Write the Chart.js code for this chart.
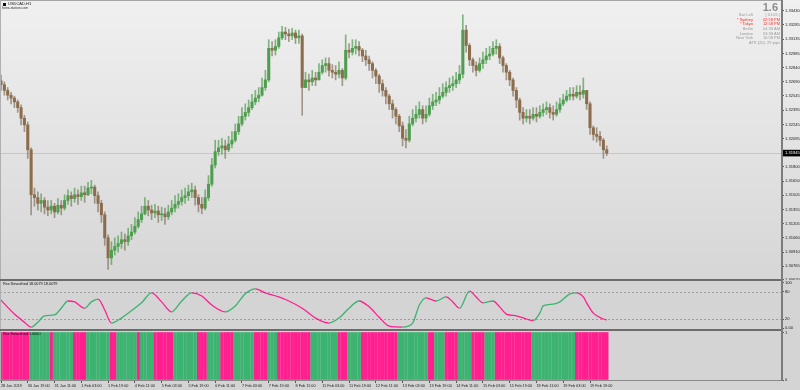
<!DOCTYPE html>
<html>
<head>
<meta charset="utf-8">
<script src="https://cdn.jsdelivr.net/npm/chart.js@4.4.1/dist/chart.umd.min.js"></script>
<style>
  html, body { margin: 0; padding: 0; background: #d4d4d4; }
  #wrap { position: relative; width: 800px; height: 390px; overflow: hidden; font-family: Arial, "Liberation Sans", sans-serif; }
  canvas { position: absolute; left: 0; }
  .rule { position: absolute; }
  .txt { position: absolute; white-space: nowrap; line-height: 1; }
</style>
</head>
<body>
<div id="wrap">
  <canvas id="main" width="800" height="280" style="top:0"></canvas>
  <canvas id="rsx" width="800" height="50" style="top:280px"></canvas>
  <canvas id="hist" width="800" height="60" style="top:330px"></canvas>

  <div class="rule" style="left:0;top:0;width:783px;height:1px;background:#a4a4a4"></div>
  <div class="rule" style="left:0;top:0;width:1px;height:380px;background:#b0b0b0"></div>
  <div class="rule" style="left:0;top:279px;width:783px;height:2px;background:#6c6c6c"></div>
  <div class="rule" style="left:0;top:329px;width:783px;height:2px;background:#6c6c6c"></div>
  <div class="rule" style="left:781px;top:0;width:2px;height:381px;background:#7c7c7c"></div>

  <div class="rule" style="left:3px;top:3px;width:3px;height:3px;background:#111"></div>
  <div class="txt" style="left:8px;top:2.4px;font-size:4px;color:#111">USDCAD,H1</div>
  <div class="txt" style="left:2px;top:6.6px;font-size:3.4px;color:#333">forex-station.com</div>
  <div class="txt" style="right:22px;top:1.6px;font-size:11px;font-weight:bold;color:#8c8c8c">1.6</div>
  <div id="info"></div>

  <div class="txt" style="left:3px;top:283px;font-size:3.8px;color:#111">Rsx Smoothed 18.0079 18.0079</div>
  <div class="txt" style="left:3px;top:333px;font-size:3.8px;color:#111">Rsx Smoothed 1.0000</div>
</div>

<script>
// USDCAD H1, sampled every 2 hours (bar 0 = 28 Jan 2019)
const firstOpen = 1.3270;
const closes = [
  1.3266,1.3260,1.3255,1.3252,1.3248,1.3242,1.3231,1.3224,1.3198,1.3151,
  1.3148,1.3142,1.3145,1.3138,1.3135,1.3139,1.3133,1.3140,1.3137,1.3145,
  1.3150,1.3147,1.3151,1.3149,1.3153,1.3151,1.3158,1.3159,1.3150,1.3142,
  1.3130,1.3106,1.3085,1.3093,1.3097,1.3100,1.3104,1.3102,1.3108,1.3112,
  1.3118,1.3125,1.3131,1.3139,1.3135,1.3132,1.3134,1.3130,1.3131,1.3128,
  1.3133,1.3137,1.3141,1.3144,1.3148,1.3150,1.3154,1.3156,1.3148,1.3141,
  1.3137,1.3148,1.3162,1.3182,1.3196,1.3200,1.3202,1.3198,1.3204,1.3208,
  1.3217,1.3225,1.3233,1.3237,1.3242,1.3248,1.3252,1.3255,1.3263,1.3271,
  1.3304,1.3302,1.3306,1.3315,1.3321,1.3319,1.3317,1.3320,1.3315,1.3317,
  1.3263,1.3271,1.3269,1.3273,1.3271,1.3279,1.3286,1.3288,1.3281,1.3279,
  1.3277,1.3281,1.3273,1.3302,1.3300,1.3304,1.3306,1.3302,1.3296,1.3292,
  1.3288,1.3281,1.3275,1.3267,1.3260,1.3254,1.3246,1.3240,1.3233,1.3223,
  1.3210,1.3208,1.3225,1.3231,1.3235,1.3240,1.3231,1.3235,1.3244,1.3248,
  1.3250,1.3254,1.3258,1.3263,1.3265,1.3267,1.3271,1.3277,1.3323,1.3307,
  1.3292,1.3286,1.3281,1.3288,1.3292,1.3296,1.3298,1.3304,1.3306,1.3294,
  1.3286,1.3279,1.3271,1.3260,1.3250,1.3237,1.3231,1.3233,1.3231,1.3235,
  1.3233,1.3237,1.3240,1.3242,1.3237,1.3235,1.3240,1.3246,1.3250,1.3254,
  1.3256,1.3254,1.3258,1.3256,1.3260,1.3246,1.3221,1.3214,1.3212,1.3208,
  1.3198,1.31945
];
const highs = [
  1.3276,1.3269,1.3263,1.3258,1.3254,1.3250,1.3245,1.3234,1.3227,1.3200,
  1.3158,1.3154,1.3152,1.3148,1.3145,1.3145,1.3142,1.3147,1.3145,1.3151,
  1.3156,1.3154,1.3158,1.3156,1.3160,1.3160,1.3164,1.3166,1.3161,1.3154,
  1.3145,1.3133,1.3109,1.3102,1.3106,1.3108,1.3112,1.3110,1.3116,1.3120,
  1.3127,1.3133,1.3139,1.3148,1.3145,1.3140,1.3141,1.3139,1.3138,1.3137,
  1.3140,1.3145,1.3150,1.3152,1.3156,1.3158,1.3161,1.3163,1.3160,1.3151,
  1.3148,1.3156,1.3171,1.3189,1.3208,1.3208,1.3210,1.3208,1.3212,1.3217,
  1.3225,1.3233,1.3242,1.3246,1.3250,1.3256,1.3260,1.3263,1.3273,1.3281,
  1.3313,1.3311,1.3313,1.3321,1.3327,1.3326,1.3324,1.3325,1.3323,1.3323,
  1.3319,1.3279,1.3277,1.3281,1.3279,1.3288,1.3292,1.3294,1.3294,1.3287,
  1.3286,1.3290,1.3283,1.3318,1.3309,1.3313,1.3313,1.3311,1.3304,1.3302,
  1.3296,1.3290,1.3283,1.3277,1.3271,1.3263,1.3256,1.3250,1.3242,1.3235,
  1.3227,1.3219,1.3233,1.3240,1.3244,1.3248,1.3244,1.3244,1.3252,1.3256,
  1.3258,1.3263,1.3267,1.3269,1.3273,1.3275,1.3279,1.3286,1.3339,1.3328,
  1.3309,1.3294,1.3290,1.3294,1.3300,1.3304,1.3306,1.3311,1.3313,1.3309,
  1.3296,1.3288,1.3281,1.3273,1.3263,1.3252,1.3242,1.3240,1.3240,1.3242,
  1.3242,1.3244,1.3246,1.3248,1.3246,1.3244,1.3248,1.3252,1.3256,1.3260,
  1.3263,1.3263,1.3265,1.3265,1.3273,1.3260,1.3248,1.3223,1.3221,1.3217,
  1.3210,1.3202
];
const lows = [
  1.3260,1.3255,1.3250,1.3246,1.3242,1.3237,1.3224,1.3217,1.3189,1.3130,
  1.3139,1.3135,1.3133,1.3131,1.3129,1.3131,1.3127,1.3131,1.3130,1.3135,
  1.3141,1.3139,1.3143,1.3141,1.3145,1.3143,1.3150,1.3152,1.3142,1.3133,
  1.3122,1.3098,1.3073,1.3078,1.3088,1.3091,1.3095,1.3093,1.3098,1.3104,
  1.3110,1.3116,1.3122,1.3130,1.3129,1.3125,1.3127,1.3122,1.3124,1.3120,
  1.3125,1.3130,1.3133,1.3137,1.3140,1.3142,1.3145,1.3148,1.3140,1.3133,
  1.3131,1.3135,1.3145,1.3160,1.3179,1.3192,1.3193,1.3189,1.3196,1.3200,
  1.3206,1.3214,1.3223,1.3229,1.3233,1.3240,1.3245,1.3248,1.3254,1.3260,
  1.3269,1.3296,1.3297,1.3304,1.3313,1.3313,1.3311,1.3313,1.3309,1.3309,
  1.3234,1.3263,1.3260,1.3265,1.3265,1.3271,1.3277,1.3279,1.3275,1.3273,
  1.3271,1.3273,1.3265,1.3271,1.3294,1.3297,1.3298,1.3296,1.3290,1.3286,
  1.3281,1.3273,1.3267,1.3258,1.3254,1.3246,1.3240,1.3231,1.3225,1.3217,
  1.3202,1.3200,1.3206,1.3223,1.3227,1.3231,1.3225,1.3227,1.3233,1.3240,
  1.3244,1.3246,1.3252,1.3254,1.3258,1.3260,1.3263,1.3267,1.3273,1.3300,
  1.3286,1.3279,1.3275,1.3279,1.3283,1.3288,1.3292,1.3296,1.3298,1.3288,
  1.3279,1.3271,1.3265,1.3254,1.3242,1.3229,1.3225,1.3227,1.3225,1.3229,
  1.3227,1.3231,1.3233,1.3235,1.3231,1.3229,1.3233,1.3237,1.3244,1.3248,
  1.3250,1.3250,1.3252,1.3250,1.3252,1.3240,1.3214,1.3208,1.3206,1.3202,
  1.3189,1.3192
];
const priceTicks = [1.33430,1.33285,1.33135,1.32985,1.32840,1.32690,1.32545,1.32395,1.32245,1.32095,
  1.31945,1.31800,1.31650,1.31505,1.31355,1.31205,1.31060,1.30910,1.30765,1.30620];

// Rsx Smoothed line (bar index -> value)
const rsxBars = [0,4,7,9,11,13,16,18,20,22,25,27,29,31,33,36,38,42,45,48,51,54,57,60,63,67,70,73,76,79,
  83,86,90,94,98,101,104,107,110,113,116,120,123,125,127,130,133,135,137,140,142,144,147,149,151,154,157,
  159,161,162,165,167,170,172,174,175,177,180,181];
const rsxValues = [62,31,13,2,13,27,29,44,60,58,44,58,64,40,11,22,33,56,78,58,36,60,78,71,51,36,49,76,87,78,
  69,60,44,22,11,22,44,60,47,24,4,2,11,51,67,60,69,58,44,82,69,56,60,47,31,27,20,16,33,49,53,58,76,78,69,56,
  33,20,18];
const rsxTicks = [100, 80, 20, 0];
const rsxTickLabels = ['100', '80', '20', '0.00'];
const rsxLevels = [80, 20];

// Rsx Smoothed histogram: runs of rising (1) / falling (-1), given by last bar of each run
const histRunEnd = [8,14,15,21,25,32,34,40,41,45,51,58,61,65,69,75,79,82,92,100,103,107,118,127,129,132,136,140,144,147,158,171,181];
const histRunDir = [-1,1,-1,1,-1,1,-1,1,-1,1,-1,1,-1,1,-1,1,-1,1,-1,1,-1,1,-1,1,-1,1,-1,1,-1,1,-1,1,-1];

const timeLabels = ['28 Jan 2019','30 Jan 19:00','31 Jan 11:00','1 Feb 03:00','1 Feb 19:00','4 Feb 11:00',
  '5 Feb 03:00','5 Feb 19:00','6 Feb 11:00','7 Feb 03:00','7 Feb 19:00','8 Feb 11:00','11 Feb 03:00',
  '11 Feb 19:00','12 Feb 11:00','13 Feb 03:00','13 Feb 19:00','14 Feb 11:00','15 Feb 03:00','15 Feb 19:00',
  '18 Feb 11:00','19 Feb 03:00','19 Feb 19:00'];
const barsPerLabel = 8;

const infoNames = ['Bar Left', '* Sydney', '* Tokyo', 'Berlin', 'London', 'New York'];
const infoValues = ['[ 01:05 ]', '02:58 PM', '12:58 PM', '04:58 AM', '03:58 AM', '10:58 PM'];
const infoRed = [false, true, true, false, false, false];
const atrText = 'ATR (20): 29 pips';

// ---- styling ----
const FONT = 'Arial, "Liberation Sans", sans-serif';
const GREEN = '#3cb371';
const PINK = '#ff1f8f';
const BULL = '#4f9d4f';
const BEAR = '#8d6c4c';
const X_MIN = -0.3, X_MAX = 233.07;
const AXIS_W = 19;

// info block, top right
const info = document.getElementById('info');
infoNames.forEach((n, k) => {
  const top = 12.8 + k * 4.7;
  const col = infoRed[k] ? '#ff2a2a' : '#9a9a9a';
  info.insertAdjacentHTML('beforeend',
    `<div class="txt" style="right:47px;top:${top}px;font-size:4px;color:${col}">${n}</div>` +
    `<div class="txt" style="right:20px;top:${top}px;font-size:4px;color:${col}">${infoValues[k]}</div>`);
});
info.insertAdjacentHTML('beforeend',
  `<div class="txt" style="right:20px;top:${12.8 + 6 * 4.7}px;font-size:4px;color:#9a9a9a">${atrText}</div>`);

const rightAxis = (extra) => Object.assign({
  position: 'right',
  afterFit: s => { s.width = AXIS_W; s.paddingTop = 0; s.paddingBottom = 0; },
  grid: { drawOnChartArea: false, drawTicks: true, tickLength: 3, tickColor: '#555' },
  border: { display: false },
}, extra);

const hiddenX = { type: 'linear', min: X_MIN, max: X_MAX, display: false, offset: false, grid: { offset: false } };

const base = {
  responsive: false,
  animation: false,
  devicePixelRatio: 1,
  events: [],
  plugins: { legend: { display: false }, tooltip: { enabled: false } },
};

// ---- price chart ----
const opens = closes.map((c, i) => i ? closes[i - 1] : firstOpen);
const isUp = closes.map((c, i) => c >= opens[i]);

const priceDeco = {
  id: 'priceDeco',
  beforeDraw(chart) {
    const { ctx, width, height } = chart;
    const g = ctx.createLinearGradient(0, 0, 0, height);
    g.addColorStop(0, '#f0f0f0');
    g.addColorStop(1, '#d6d6d6');
    ctx.save();
    ctx.fillStyle = g;
    ctx.fillRect(0, 0, width, height);
    ctx.restore();
  },
  beforeDatasetsDraw(chart) {
    const { ctx, chartArea } = chart;
    const y = Math.round(chart.scales.y.getPixelForValue(closes[closes.length - 1])) + 0.5;
    ctx.save();
    ctx.strokeStyle = '#c6c6c6';
    ctx.lineWidth = 1;
    ctx.beginPath();
    ctx.moveTo(chartArea.left, y);
    ctx.lineTo(chartArea.right, y);
    ctx.stroke();
    ctx.restore();
  },
  afterDraw(chart) {
    const { ctx, chartArea } = chart;
    const last = closes[closes.length - 1];
    const y = chart.scales.y.getPixelForValue(last);
    ctx.save();
    ctx.fillStyle = '#000';
    ctx.fillRect(chartArea.right + 1, y - 3.3, AXIS_W, 6.6);
    ctx.fillStyle = '#fff';
    ctx.font = `4.1px ${FONT}`;
    ctx.textBaseline = 'middle';
    ctx.fillText(last.toFixed(5), chartArea.right + 4, y + 0.2);
    ctx.restore();
  },
};

new Chart(document.getElementById('main'), {
  type: 'bar',
  data: {
    datasets: [
      {
        data: closes.map((c, i) => ({ x: i, y: [lows[i], highs[i]] })),
        backgroundColor: isUp.map(u => u ? 'rgba(79,157,79,0.7)' : 'rgba(130,115,95,0.7)'),
        barThickness: 1,
        grouped: false,
        order: 2,
      },
      {
        data: closes.map((c, i) => ({ x: i, y: [opens[i], c] })),
        backgroundColor: isUp.map(u => u ? BULL : BEAR),
        barThickness: 2.4,
        minBarLength: 1,
        grouped: false,
        order: 1,
      },
    ],
  },
  options: {
    ...base,
    layout: { padding: { top: 1, bottom: 1, left: 0, right: 0 } },
    scales: {
      x: hiddenX,
      y: rightAxis({
        min: 1.306294,
        max: 1.335345,
        beginAtZero: false,
        afterBuildTicks: s => { s.ticks = priceTicks.map(v => ({ value: v })); },
        ticks: { callback: v => v.toFixed(5), autoSkip: false, padding: 1, color: '#222', font: { size: 4.1, family: FONT } },
      }),
    },
  },
  plugins: [priceDeco],
});

// ---- Rsx Smoothed line ----
const rsxDeco = {
  id: 'rsxDeco',
  beforeDraw(chart) {
    const { ctx, width, height } = chart;
    ctx.save();
    ctx.fillStyle = '#d4d4d4';
    ctx.fillRect(0, 0, width, height);
    ctx.restore();
  },
  beforeDatasetsDraw(chart) {
    const { ctx, chartArea } = chart;
    ctx.save();
    ctx.strokeStyle = '#9c9c9c';
    ctx.lineWidth = 1;
    ctx.setLineDash([2, 2]);
    rsxLevels.forEach(v => {
      const y = Math.round(chart.scales.y.getPixelForValue(v)) + 0.5;
      ctx.beginPath();
      ctx.moveTo(chartArea.left, y);
      ctx.lineTo(chartArea.right, y);
      ctx.stroke();
    });
    ctx.restore();
  },
};

new Chart(document.getElementById('rsx'), {
  type: 'line',
  data: {
    datasets: [{
      data: rsxBars.map((b, k) => ({ x: b, y: rsxValues[k] })),
      borderColor: PINK,
      borderWidth: 1.3,
      pointRadius: 0,
      fill: false,
      cubicInterpolationMode: 'monotone',
      segment: { borderColor: c => c.p1.parsed.y >= c.p0.parsed.y ? GREEN : PINK },
    }],
  },
  options: {
    ...base,
    layout: { padding: { top: 1, bottom: 1, left: 0, right: 0 } },
    scales: {
      x: hiddenX,
      y: rightAxis({
        min: -2.22,
        max: 104.44,
        afterBuildTicks: s => { s.ticks = rsxTicks.map(v => ({ value: v })); },
        ticks: { callback: (v, k) => rsxTickLabels[k], autoSkip: false, padding: 1, color: '#222', font: { size: 4.1, family: FONT } },
      }),
    },
  },
  plugins: [rsxDeco],
});

// ---- Rsx Smoothed histogram ----
const histDir = [];
let start = 0;
histRunEnd.forEach((end, r) => {
  for (let i = start; i <= end; i++) histDir[i] = histRunDir[r];
  start = end + 1;
});

const histDeco = {
  id: 'histDeco',
  beforeDraw(chart) {
    const { ctx, width, height } = chart;
    ctx.save();
    ctx.fillStyle = '#d4d4d4';
    ctx.fillRect(0, 0, width, height);
    ctx.restore();
  },
};

new Chart(document.getElementById('hist'), {
  type: 'bar',
  data: {
    datasets: [
      { data: histDir.map((d, i) => ({ x: i, y: d > 0 ? 1 : null })), backgroundColor: GREEN, barThickness: 2.8, grouped: false },
      { data: histDir.map((d, i) => ({ x: i, y: d < 0 ? 1 : null })), backgroundColor: PINK, barThickness: 2.8, grouped: false },
    ],
  },
  options: {
    ...base,
    layout: { padding: { top: 1, bottom: 0, left: 0, right: 0 } },
    scales: {
      x: {
        type: 'linear', min: X_MIN, max: X_MAX, offset: false, position: 'bottom',
        afterBuildTicks: s => { s.ticks = timeLabels.map((t, k) => ({ value: k * barsPerLabel })); },
        afterFit: s => { s.height = 10; s.paddingLeft = 0; s.paddingRight = 0; },
        ticks: { callback: (v, k) => timeLabels[k], align: 'start', autoSkip: false, maxRotation: 0, minRotation: 0,
          padding: 1, color: '#222', font: { size: 3.8, family: FONT } },
        grid: { drawOnChartArea: false, drawTicks: true, tickLength: 3, tickColor: '#555', offset: false },
        border: { display: true, color: '#8a8a8a', width: 1 },
      },
      y: rightAxis({
        min: 0,
        max: 1.0316,
        afterBuildTicks: s => { s.ticks = [{ value: 1 }, { value: 0 }]; },
        ticks: { callback: v => String(v), autoSkip: false, padding: 1, color: '#222', font: { size: 4.1, family: FONT } },
      }),
    },
  },
  plugins: [histDeco],
});
</script>
</body>
</html>
